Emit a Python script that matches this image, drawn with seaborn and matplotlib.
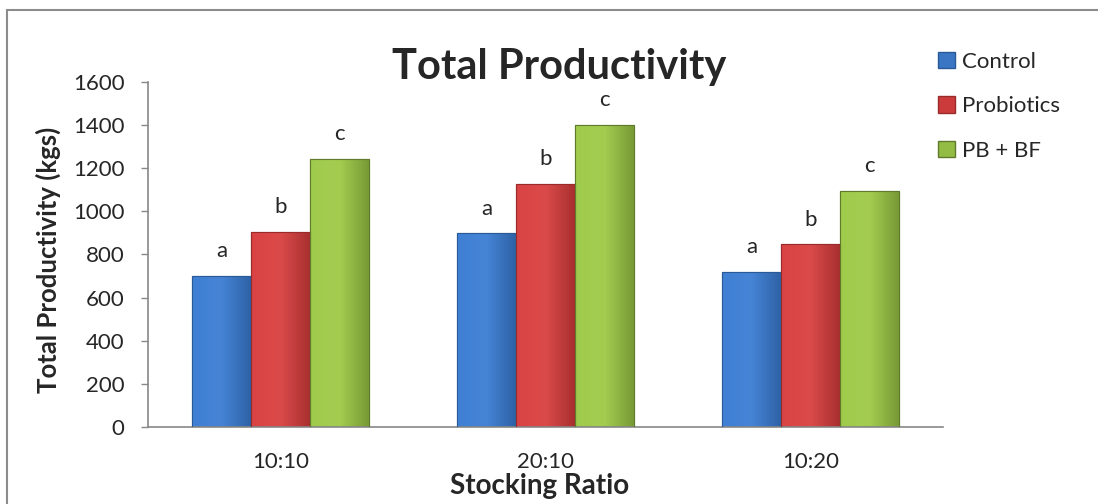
import numpy as np
import pandas as pd
import seaborn as sns
import matplotlib.pyplot as plt
from matplotlib.colors import LinearSegmentedColormap
from matplotlib.patches import Rectangle

ratios = ['10:10', '20:10', '10:20']
groups = ['Control', 'Probiotics', 'PB + BF']
control = [702, 898, 718]
probiotics = [903, 1126, 847]
pb_bf = [1243, 1401, 1096]
letters = {'Control': 'a', 'Probiotics': 'b', 'PB + BF': 'c'}

cores = {'Control': '#3A76C4', 'Probiotics': '#CC3B3B', 'PB + BF': '#93BC45'}
grad = {
    'Control': ['#3F80D4', '#4684D6', '#2E62A6'],
    'Probiotics': ['#D94343', '#DB4A4A', '#A93030'],
    'PB + BF': ['#9FCB4C', '#A4CD50', '#789A36'],
}
bordas = {'Control': '#2A5A96', 'Probiotics': '#9A2B2B', 'PB + BF': '#5E7A2A'}

base = pd.DataFrame({
    'ratio': ratios * 3,
    'grupo': [g for g in groups for _ in ratios],
    'valor': control + probiotics + pb_bf,
})

sns.set_style('white')
plt.rcParams['font.family'] = ['Lato', 'DejaVu Sans']

fig = plt.figure(figsize=(10.98, 5.04), dpi=100)
ax = fig.add_axes([0.1348, 0.1528, 0.724, 0.6845])

sns.barplot(data=base, x='ratio', y='valor', hue='grupo', order=ratios,
            hue_order=groups, palette=cores, width=0.667, gap=0,
            saturation=1, ax=ax, legend=False)

# gradiente nas barras
ax.set_ylim(0, 1600)
xlim = ax.get_xlim()
for cont, g in zip(ax.containers, groups):
    cmap = LinearSegmentedColormap.from_list(g, grad[g])
    for barra, r in zip(cont, ratios):
        x0, y0 = barra.get_x(), barra.get_y()
        w, h = barra.get_width(), barra.get_height()
        img = ax.imshow(np.linspace(0, 1, 100).reshape(1, -1), cmap=cmap,
                        extent=[x0, x0 + w, y0, y0 + h], aspect='auto', zorder=2)
        img.set_clip_path(barra)
        barra.set_edgecolor(bordas[g])
        barra.set_linewidth(0.8)
        ax.add_patch(Rectangle((x0, y0), w, h, fill=False, edgecolor=bordas[g],
                               lw=0.8, zorder=3))
        ax.text(x0 + w / 2, y0 + h + 115, letters[g], ha='center', va='center',
                fontsize=16)
ax.set_xlim(xlim)
ax.set_ylim(0, 1600)

ax.set_yticks(range(0, 1601, 200))
ax.tick_params(axis='y', labelsize=16, length=5, width=1, color='#888888',
               direction='out', pad=12, left=True)
ax.tick_params(axis='x', labelsize=16, length=0, pad=18)
ax.set_xlabel('')
ax.set_ylabel('')
for s in ['top', 'right']:
    ax.spines[s].set_visible(False)
for s in ['left', 'bottom']:
    ax.spines[s].set_color('#888888')
    ax.spines[s].set_linewidth(1.2)

fig.text(0.509, 0.868, 'Total Productivity', ha='center', va='center',
         fontsize=30, fontweight='bold')
fig.text(0.044, 0.484, 'Total Productivity (kgs)', ha='center', va='center',
         rotation=90, fontsize=18.5, fontweight='bold')
fig.text(0.491, 0.035, 'Stocking Ratio', ha='center', va='center',
         fontsize=20, fontweight='bold')

# legenda
hs = [Rectangle((0, 0), 1, 1, facecolor=cores[g], edgecolor=bordas[g]) for g in groups]
fig.legend(hs, groups, loc='upper left', bbox_to_anchor=(938 / 1098, 0.897),
           frameon=False, fontsize=16, handlelength=0.77, handleheight=0.77,
           handletextpad=0.3, labelspacing=1.1, borderpad=0, borderaxespad=0)

# moldura
fig.add_artist(Rectangle((7 / 1098, -0.1), 1.2, 1.1 - 10 / 504, transform=fig.transFigure,
                         fill=False, edgecolor='#8C8C8C', lw=1.5))

plt.savefig('out.png', dpi=100)
